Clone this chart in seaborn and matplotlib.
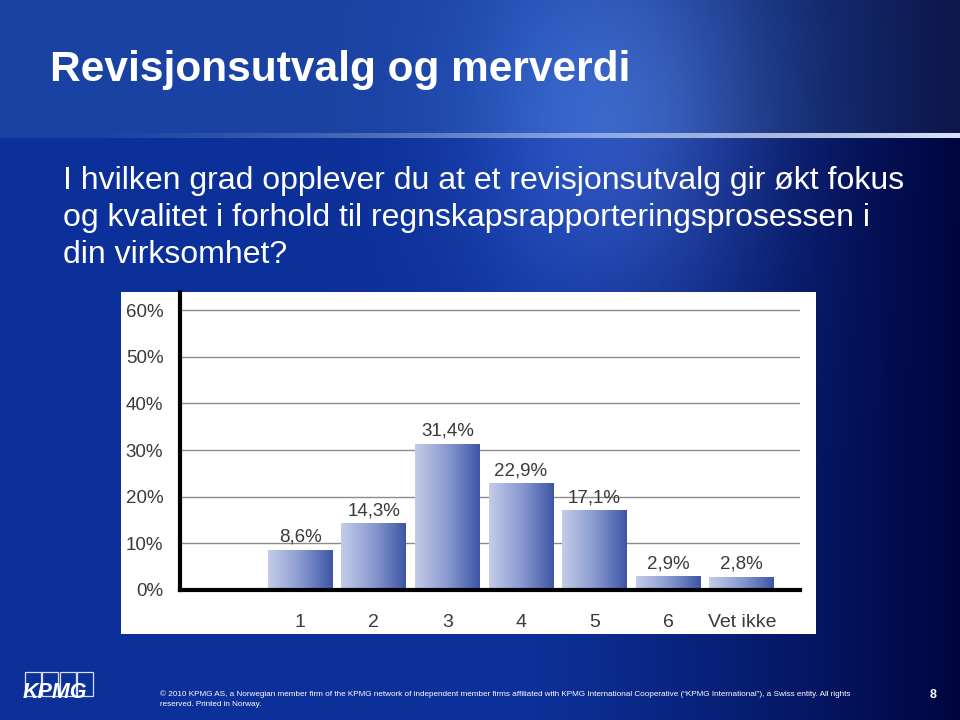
import numpy as np
import pandas as pd
import matplotlib
matplotlib.use("Agg")
import matplotlib.pyplot as plt
import seaborn as sns
from matplotlib.colors import LinearSegmentedColormap
from matplotlib.patches import Rectangle

# ---- data ----
categories = ["1", "2", "3", "4", "5", "6", "Vet ikke"]
values = [8.6, 14.3, 31.4, 22.9, 17.1, 2.9, 2.8]
value_labels = ["8,6%", "14,3%", "31,4%", "22,9%", "17,1%", "2,9%", "2,8%"]
y_ticks = [0, 10, 20, 30, 40, 50, 60]
y_tick_labels = ["0%", "10%", "20%", "30%", "40%", "50%", "60%"]

title = "Revisjonsutvalg og merverdi"
question = ("I hvilken grad opplever du at et revisjonsutvalg gir økt fokus\n"
            "og kvalitet i forhold til regnskapsrapporteringsprosessen i\n"
            "din virksomhet?")
footer = ("© 2010 KPMG AS, a Norwegian member firm of the KPMG network of independent member firms affiliated with KPMG International Cooperative (\u201cKPMG International\u201d), a Swiss entity. All rights\n"
          "reserved. Printed in Norway.")

sns.set_theme(style="white")
plt.rcParams['font.family'] = ['Liberation Sans', 'DejaVu Sans']

W, H = 960, 720
fig = plt.figure(figsize=(9.6, 7.2), dpi=100)

# ---- slide background ----
bg = fig.add_axes([0, 0, 1, 1])
bg.set_axis_off()
xx, yy = np.meshgrid(np.linspace(0, 1, 480), np.linspace(0, 1, 360))
left = np.array([0.05, 0.19, 0.60])
right = np.array([0.0, 0.02, 0.25])
t = np.clip((xx - 0.55) / 0.45, 0, 1) ** 1.2
img = left[None, None, :] * (1 - t[..., None]) + right[None, None, :] * t[..., None]
topband = (yy < 0.19)
img[topband] = img[topband] + np.array([0.05, 0.07, 0.04])
d = np.sqrt(((xx - 0.65) / 0.15) ** 2 + ((yy - 0.17) / 0.28) ** 2)
glow = np.exp(-d ** 2) * 0.2
img = img + glow[..., None] * np.array([0.7, 0.85, 1.0])
img = np.clip(img, 0, 1)
bg.imshow(img, extent=[0, 1, 0, 1], aspect='auto', origin='upper', zorder=0)
bg.set_xlim(0, 1)
bg.set_ylim(0, 1)

# chart panel (white)
bg.add_patch(Rectangle((121 / W, 1 - 634 / H), (816 - 121) / W, (634 - 292) / H,
                       facecolor="white", edgecolor="none", zorder=2))
# KPMG logo boxes
for i in range(4):
    bg.add_patch(Rectangle(((25 + i * 17.3) / W, 1 - 696 / H), 16 / W, 24 / H,
                           fill=False, edgecolor=(0.85, 0.88, 0.95), linewidth=0.9,
                           zorder=2))

# separator line
line = np.zeros((1, 400, 4))
line[..., :3] = np.array([0.85, 0.90, 0.98])
line[..., 3] = np.clip(np.linspace(-0.1, 1.0, 400), 0, 1) ** 1.2
la = fig.add_axes([0.0, 1 - 138 / H, 1.0, 5 / H])
la.set_axis_off()
la.imshow(line, extent=[0, 1, 0, 1], aspect='auto')

fig.text(50 / W, 1 - 70 / H, title, color="white", fontsize=30.5, fontweight="bold",
         va="center", ha="left")
fig.text(63 / W, 1 - 218 / H, question, color="white", fontsize=23,
         va="center", ha="left", linespacing=1.29)

# footer
fig.text(160 / W, 1 - 699 / H, footer, color="white", fontsize=5.85, va="center",
         ha="left", linespacing=1.5)
fig.text(933 / W, 1 - 695 / H, "8", color="white", fontsize=9, fontweight="bold",
         va="center", ha="center")
fig.text(55 / W, 1 - 693 / H, "KPMG", color="white", fontsize=15.5, fontweight="bold",
         fontstyle="italic", va="center", ha="center")

# ---- chart ----
ax = fig.add_axes([180 / W, 1 - 590 / H, (800 - 180) / W, (590 - 292) / H])
ax.set_facecolor("none")
df = pd.DataFrame({"cat": categories, "val": values})
sns.barplot(data=df, x="cat", y="val", order=categories, ax=ax, width=0.88,
            color="#6070b8", saturation=1, zorder=3)

cmap = LinearSegmentedColormap.from_list("bar", ["#c4cce8", "#8a9ad0", "#3d56a6"])
grad = np.linspace(0, 1, 256)[None, :]
for p in ax.patches:
    x0, y0 = p.get_x(), p.get_y()
    w, h = p.get_width(), p.get_height()
    p.set_facecolor("none")
    p.set_edgecolor("none")
    im = ax.imshow(grad, cmap=cmap, extent=[x0, x0 + w, y0, y0 + h], aspect='auto',
                   zorder=3, origin='lower')
    im.set_clip_path(p)

ax.bar_label(ax.containers[0], labels=value_labels, padding=3, fontsize=13.5,
             color="#3a3a3a", zorder=4)

ax.set_xlim(-1.63, 6.79)
ax.set_ylim(0, 63.9)
ax.set_yticks(y_ticks)
ax.set_yticklabels(y_tick_labels)
ax.tick_params(axis='y', length=0, pad=12, labelsize=13.5, labelcolor="#3a3a3a")
ax.tick_params(axis='x', length=0, pad=17, labelsize=14, labelcolor="#3a3a3a")
ax.set_xlabel("")
ax.set_ylabel("")
ax.yaxis.grid(True, color="#8c8c8c", linewidth=1.0, zorder=1)
ax.set_axisbelow(True)
for s in ["top", "right"]:
    ax.spines[s].set_visible(False)
ax.spines["left"].set_color("black")
ax.spines["left"].set_linewidth(3)
ax.spines["bottom"].set_color("black")
ax.spines["bottom"].set_linewidth(3)
ax.spines["bottom"].set_zorder(5)

fig.savefig("out.png", dpi=100)
